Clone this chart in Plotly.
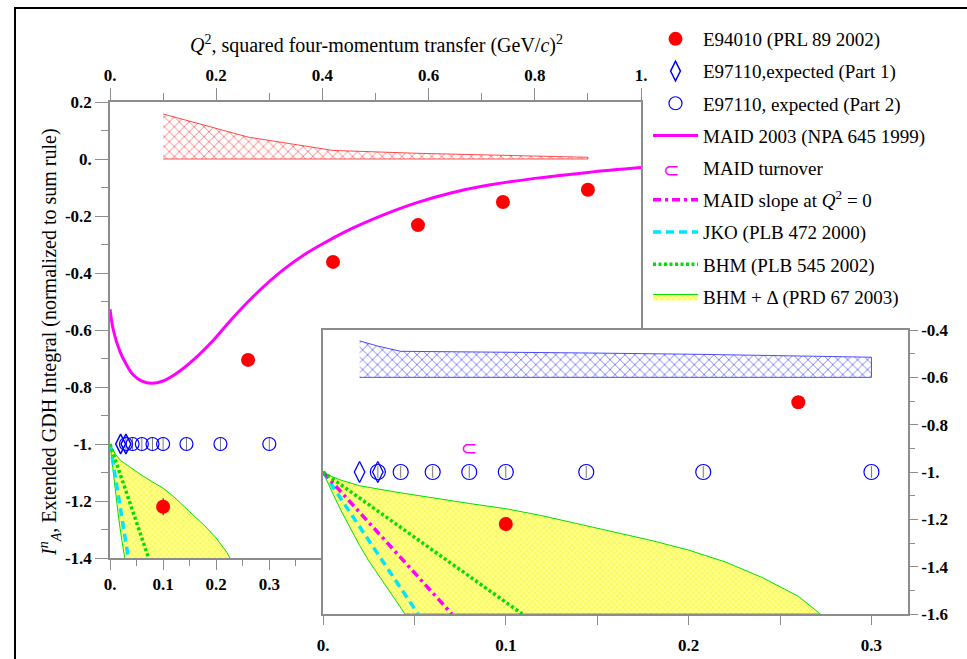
import plotly.graph_objects as go

W, H = 967, 659
SERIF = "Liberation Serif, Times New Roman, serif"

# ---------------- data ----------------
e94010_q2 = [0.1, 0.26, 0.42, 0.58, 0.74, 0.9]
e94010_val = [-1.22, -0.705, -0.361, -0.232, -0.151, -0.108]
e94010_err = [0.03, 0.01, 0.008, 0.008, 0.008, 0.008]
e94010_sys = [0.158, 0.077, 0.03, 0.02, 0.013, 0.006]

part1_q2 = [0.02, 0.03]
part1_val = [-1.0, -1.0]
part2_q2 = [0.03, 0.0425, 0.06, 0.08, 0.1, 0.144, 0.208, 0.3]
part2_val = [-1.0] * 8
part2_err = [0.025] * 8

e97110_sys_q2 = [0.02, 0.03, 0.0425, 0.06, 0.08, 0.1, 0.144, 0.208, 0.3]
e97110_sys_top = [-0.446, -0.468, -0.49, -0.491, -0.492, -0.494, -0.497, -0.503, -0.515]
e97110_sys_bottom = -0.6

maid_q2 = [0, 0.00625, 0.0188, 0.0314, 0.044, 0.06, 0.0785, 0.1, 0.1255, 0.157, 0.195,
           0.229, 0.276, 0.326, 0.37, 0.408, 0.452, 0.515, 0.578, 0.64, 0.703, 0.8, 0.9, 1.0]
maid_val = [-0.527, -0.6, -0.676, -0.723, -0.758, -0.779, -0.787, -0.779, -0.752, -0.705, -0.635,
            -0.562, -0.471, -0.389, -0.331, -0.29, -0.247, -0.196, -0.153, -0.12, -0.095, -0.068, -0.047, -0.03]

turnover_q2 = [0.08]
turnover_val = [-0.905]

maid_slope_q2 = [0.0, 0.0705]
maid_slope_val = [-1.0, -1.6]
jko_q2 = [0.0, 0.052]
jko_val = [-1.0, -1.6]
bhm_q2 = [0.0, 0.109]
bhm_val = [-1.0, -1.6]

bhmd_upper_q2 = [0, 0.005, 0.01, 0.02, 0.04, 0.06, 0.08, 0.1, 0.12, 0.14, 0.16, 0.18, 0.2, 0.22, 0.24, 0.26, 0.272]
bhmd_upper_val = [-1.0, -1.02, -1.035, -1.058, -1.085, -1.11, -1.133, -1.155, -1.185, -1.22, -1.255,
                  -1.29, -1.33, -1.38, -1.445, -1.525, -1.6]
bhmd_lower_q2 = [0, 0.005, 0.01, 0.015, 0.02, 0.025, 0.03, 0.035, 0.04, 0.0448]
bhmd_lower_val = [-1.0, -1.085, -1.165, -1.24, -1.31, -1.375, -1.435, -1.49, -1.545, -1.6]

main_xticks = [0, 0.2, 0.4, 0.6, 0.8, 1.0]
main_xtext = ["0.", "0.2", "0.4", "0.6", "0.8", "1."]
main_bxticks = [0, 0.1, 0.2, 0.3]
main_bxtext = ["0.", "0.1", "0.2", "0.3"]
main_yticks = [0.2, 0, -0.2, -0.4, -0.6, -0.8, -1.0, -1.2, -1.4]
main_ytext = ["0.2", "0.", "-0.2", "-0.4", "-0.6", "-0.8", "-1.", "-1.2", "-1.4"]
inset_xticks = [0, 0.1, 0.2, 0.3]
inset_xtext = ["0.", "0.1", "0.2", "0.3"]
inset_yticks = [-0.4, -0.6, -0.8, -1.0, -1.2, -1.4, -1.6]
inset_ytext = ["-0.4", "-0.6", "-0.8", "-1.", "-1.2", "-1.4", "-1.6"]

# --------------- styles ---------------
RED, BLUE, MAG, CYAN, GREEN = "#ff0000", "#0000ff", "#ff00ff", "#00e5ff", "#00e000"
AX = "#8c8c8c"

# polygons built from the data
red_band_x = e94010_q2 + e94010_q2[::-1]
red_band_y = e94010_sys + [0.0] * len(e94010_q2)
blue_band_x = e97110_sys_q2 + e97110_sys_q2[::-1]
blue_band_y = e97110_sys_top + [e97110_sys_bottom] * len(e97110_sys_q2)
bhmd_x = bhmd_upper_q2 + bhmd_lower_q2[::-1]
bhmd_y = bhmd_upper_val + bhmd_lower_val[::-1]

fig = go.Figure()

def add(tr, sub, group=None, legend=False, rank=None):
    xa, ya = sub
    tr.update(xaxis=xa, yaxis=ya, showlegend=legend, hoverinfo="skip")
    if group:
        tr.update(legendgroup=group)
    if rank is not None:
        tr.update(legendrank=rank)
    fig.add_trace(tr)

MAIN = ("x", "y")
INSET = ("x2", "y2")

yellow_pattern = dict(shape="x", fgcolor="#f2f200", bgcolor="#ffff8c", size=4, solidity=0.35)
red_pattern = dict(shape="x", fgcolor=RED, bgcolor="white", size=7, solidity=0.25)
blue_pattern = dict(shape="x", fgcolor=BLUE, bgcolor="white", size=7, solidity=0.25)

# ---- main plot ----
add(go.Scatter(x=red_band_x, y=red_band_y, fill="toself", mode="lines",
               line=dict(color=RED, width=0.7), fillcolor="rgba(0,0,0,0)",
               fillpattern=red_pattern), MAIN)
add(go.Scatter(x=bhmd_x, y=bhmd_y, fill="toself", mode="lines",
               line=dict(color=GREEN, width=1), fillpattern=yellow_pattern,
               name="BHM + \u0394 (PRD 67 2003)"), MAIN, "g9", True, 9)
add(go.Scatter(x=jko_q2, y=jko_val, mode="lines", line=dict(color=CYAN, width=3.5, dash="8px,5px"),
               name="JKO (PLB 472 2000)"), MAIN, "g7", True, 7)
add(go.Scatter(x=bhm_q2, y=bhm_val, mode="lines", line=dict(color=GREEN, width=3.5, dash="3px,2.5px"),
               name="BHM (PLB 545 2002)"), MAIN, "g8", True, 8)
add(go.Scatter(x=maid_q2, y=maid_val, mode="lines", line=dict(color=MAG, width=3, shape="spline"),
               name="MAID 2003 (NPA 645 1999)"), MAIN, "g4", True, 4)
add(go.Scatter(x=part2_q2, y=part2_val, mode="markers",
               marker=dict(symbol="circle-open", size=13, color=BLUE, line=dict(width=1.2)),
               error_y=dict(type="data", array=part2_err, color="#777777", thickness=1, width=0),
               name="E97110, expected (Part 2)"), MAIN, "g3", True, 3)
add(go.Scatter(x=part1_q2, y=part1_val, mode="markers",
               marker=dict(symbol="diamond-tall-open", size=14, color=BLUE, line=dict(width=1.5)),
               name="E97110,expected (Part 1)"), MAIN, "g2", True, 2)
add(go.Scatter(x=e94010_q2, y=e94010_val, mode="markers",
               marker=dict(symbol="circle", size=14, color=RED),
               error_y=dict(type="data", array=e94010_err, color="#222222", thickness=1, width=0),
               name="E94010 (PRL 89 2002)"), MAIN, "g1", True, 1)
# dummy trace to anchor the top axis
add(go.Scatter(x=[None], y=[None], mode="markers"), ("x3", "y"))

# ---- inset ----
add(go.Scatter(x=blue_band_x, y=blue_band_y, fill="toself", mode="lines",
               line=dict(color=BLUE, width=0.7), fillcolor="rgba(0,0,0,0)",
               fillpattern=blue_pattern), INSET)
add(go.Scatter(x=bhmd_x, y=bhmd_y, fill="toself", mode="lines",
               line=dict(color=GREEN, width=1), fillpattern=yellow_pattern), INSET)
add(go.Scatter(x=jko_q2, y=jko_val, mode="lines", line=dict(color=CYAN, width=3.5, dash="8px,5px")), INSET)
add(go.Scatter(x=maid_slope_q2, y=maid_slope_val, mode="lines",
               line=dict(color=MAG, width=3.5, dash="8px,4px,3px,4px"),
               name="MAID slope at <i>Q</i><sup>2</sup> = 0"), INSET, "g6", True, 6)
add(go.Scatter(x=bhm_q2, y=bhm_val, mode="lines", line=dict(color=GREEN, width=3.5, dash="3px,2.5px")), INSET)
add(go.Scatter(x=turnover_q2, y=turnover_val, mode="text", text=["\u2282"],
               textfont=dict(color=MAG, size=20, family="DejaVu Sans"), textposition="middle center"), INSET)
add(go.Scatter(x=[None], y=[None], mode="markers", marker=dict(color="rgba(0,0,0,0)", size=1),
               name="MAID turnover"), INSET, "g5", True, 5)
add(go.Scatter(x=part2_q2, y=part2_val, mode="markers",
               marker=dict(symbol="circle-open", size=15, color=BLUE, line=dict(width=1.2)),
               error_y=dict(type="data", array=part2_err, color="#777777", thickness=1, width=0)), INSET)
add(go.Scatter(x=part1_q2, y=part1_val, mode="markers",
               marker=dict(symbol="diamond-tall-open", size=15, color=BLUE, line=dict(width=1.3))), INSET)
add(go.Scatter(x=e94010_q2, y=e94010_val, mode="markers",
               marker=dict(symbol="circle", size=14, color=RED),
               error_y=dict(type="data", array=e94010_err, color="#222222", thickness=1, width=0)), INSET)

tickfont = dict(family=SERIF, size=17, color="black", weight="bold")
axbase = dict(showline=True, linecolor=AX, linewidth=1.5, ticks="outside", tickcolor=AX,
              tickwidth=1.2, showgrid=False, zeroline=False, tickfont=tickfont, tickmode="array",
              fixedrange=True, automargin=False)

main_dx = [110 / W, 641 / W]
main_dy = [1 - 558 / H, 1 - 102 / H]
ins_dx = [323 / W, 908 / W]
ins_dy = [1 - 614 / H, 1 - 330 / H]

fig.update_layout(
    width=W, height=H, margin=dict(l=0, r=0, t=0, b=0, autoexpand=False),
    paper_bgcolor="white", plot_bgcolor="white",
    font=dict(family=SERIF, size=19, color="black"),
    xaxis=dict(axbase, domain=main_dx, range=[0, 1], anchor="y",
               tickvals=main_bxticks, ticktext=main_bxtext, ticklen=10,
               minor=dict(tickvals=[0.05, 0.15, 0.25, 0.35], ticklen=6, tickcolor=AX, ticks="outside")),
    xaxis3=dict(axbase, range=[0, 1], anchor="y", overlaying="x", side="top",
                tickvals=main_xticks, ticktext=main_xtext, ticklen=12,
                minor=dict(dtick=0.1, tick0=0, ticklen=7, tickcolor=AX, ticks="outside")),
    yaxis=dict(axbase, domain=main_dy, range=[-1.4, 0.2], anchor="x", mirror=True,
               tickvals=main_yticks, ticktext=main_ytext, ticklen=13,
               minor=dict(dtick=0.1, tick0=0, ticklen=7, tickcolor=AX, ticks="outside")),
    xaxis2=dict(axbase, domain=ins_dx, range=[0, 0.32], anchor="y2", mirror=True,
                tickvals=inset_xticks, ticktext=inset_xtext, ticklen=9, ticklabelstandoff=6,
                minor=dict(tickvals=[0.05, 0.15, 0.25], ticklen=9, tickcolor=AX, ticks="outside")),
    yaxis2=dict(axbase, domain=ins_dy, range=[-1.6, -0.4], anchor="x2", side="right", mirror=True,
                tickvals=inset_yticks, ticktext=inset_ytext, ticklen=8,
                minor=dict(dtick=0.1, tick0=0, ticklen=5, tickcolor=AX, ticks="outside")),
    legend=dict(x=648 / W, y=1 - 20 / H, xanchor="left", yanchor="top",
                font=dict(family=SERIF, size=19, color="black"),
                bgcolor="rgba(0,0,0,0)", tracegroupgap=4.5, itemwidth=45,
                traceorder="grouped"),
    showlegend=True,
)

fig.add_annotation(xref="paper", yref="paper", x=376 / W, y=1 - 30 / H, showarrow=False,
                   text="<i>Q</i><sup>2</sup>, squared four-momentum transfer (GeV/<i>c</i>)<sup>2</sup>",
                   font=dict(family=SERIF, size=20, color="black"))
fig.add_annotation(xref="paper", yref="paper", x=34 / W, y=1 - 342 / H, showarrow=False, textangle=-90,
                   text="<i>I</i><sup><i>n</i></sup><sub><i>A</i></sub>, Extended GDH Integral (normalized to sum rule)",
                   font=dict(family=SERIF, size=20, color="black"))
fig.add_annotation(xref="paper", yref="paper", x=682 / W, y=1 - 156 / H, showarrow=False,
                   text="\u2282", font=dict(family="DejaVu Sans", size=20, color=MAG))

fig.add_shape(type="rect", xref="paper", yref="paper", x0=15 / W, y0=1 - 8 / H, x1=1.02, y1=-0.02,
              line=dict(color="black", width=2), layer="above")

fig.write_html("out.html", config={"displayModeBar": False},
               post_script="document.body.style.margin='0px';document.body.style.padding='0px';")
